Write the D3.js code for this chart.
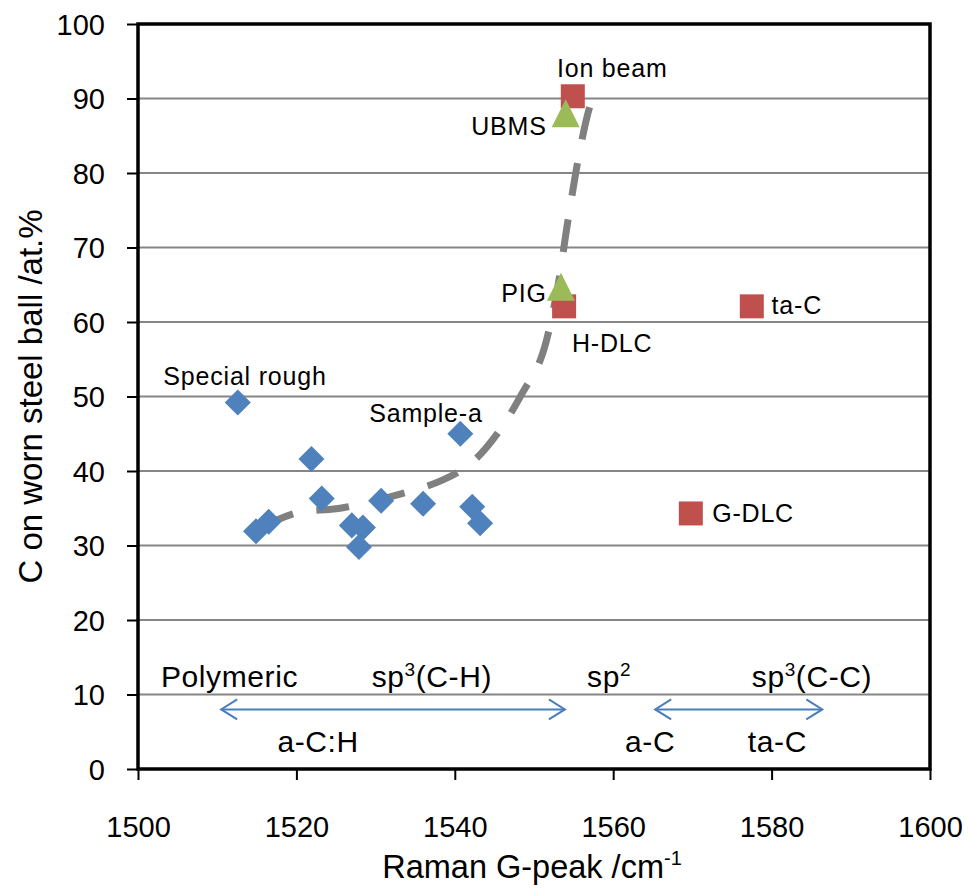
<!DOCTYPE html>
<html>
<head>
<meta charset="utf-8">
<script src="https://cdn.jsdelivr.net/npm/d3@7"></script>
<style>
  body { margin: 0; background: #fff; }
  text { font-family: "Liberation Sans", Arial, sans-serif; fill: #000; }
</style>
</head>
<body>
<div id="chart"></div>
<script>
const width = 969;
const height = 890;

// a-C:H samples (blue diamonds)
const hydroX = [1512.6, 1521.9, 1523.2, 1514.9, 1516.5, 1527.0, 1528.4, 1527.9, 1530.7, 1536.0, 1540.7, 1542.2, 1543.2];
const hydroY = [49.2, 41.6, 36.3, 31.9, 33.2, 32.7, 32.4, 29.8, 36.0, 35.6, 45.0, 35.2, 33.0];

// red squares
const squareX = [1554.9, 1553.8, 1577.5, 1569.8];
const squareY = [90.3, 62.1, 62.1, 34.3];

// green triangles
const triX = [1554.0, 1553.4];
const triY = [87.9, 64.6];

// dashed trend curve
const trendX = [1515.7, 1520.1, 1525.5, 1533.1, 1538.5, 1542.2, 1545.7, 1548.6, 1550.8, 1552.7, 1554.3, 1555.8, 1557.1, 1558.1];
const trendY = [32.5, 34.4, 35.0, 36.9, 38.8, 41.2, 45.5, 50.6, 54.9, 63.0, 73.7, 83.1, 89.1, 91.8];

// point labels (text, x, y in data units, anchor)
const pointLabels = [
  ["Ion beam", 1552.9, 92.9, "start"],
  ["UBMS", 1551.6, 85.1, "end"],
  ["PIG", 1551.6, 62.7, "end"],
  ["H-DLC", 1554.8, 56.0, "start"],
  ["ta-C", 1580.0, 61.1, "start"],
  ["G-DLC", 1572.5, 33.2, "start"],
  ["Special rough", 1503.2, 51.5, "start"],
  ["Sample-a", 1529.2, 46.6, "start"]
];

// region labels: [main, superscript, rest, x, y]
const regionLabels = [
  ["Polymeric", "", "", 1502.9, 11.0],
  ["sp", "3", "(C-H)", 1529.5, 11.0],
  ["sp", "2", "", 1556.7, 11.0],
  ["sp", "3", "(C-C)", 1577.5, 11.0],
  ["a-C:H", "", "", 1517.6, 2.3],
  ["a-C", "", "", 1561.5, 2.3],
  ["ta-C", "", "", 1577.0, 2.3]
];

// double arrows [from, to] at y = 8
const arrows = [[1510.5, 1553.9], [1565.3, 1586.4]];
const arrowY = 8;

const xTicks = d3.range(1500, 1601, 20);
const yTicks = d3.range(0, 101, 10);

const margin = { left: 138, right: 39, top: 24, bottom: 121 };

const svg = d3.select("#chart")
  .append("svg")
  .attr("width", width)
  .attr("height", height);

const x = d3.scaleLinear().domain([1500, 1600]).range([margin.left, width - margin.right]);
const y = d3.scaleLinear().domain([0, 100]).range([height - margin.bottom, margin.top]);

// gridlines
svg.append("g")
  .selectAll("line")
  .data(yTicks.filter(d => d > 0 && d < 100))
  .enter().append("line")
  .attr("x1", x(1500)).attr("x2", x(1600))
  .attr("y1", d => y(d)).attr("y2", d => y(d))
  .attr("stroke", "#868686")
  .attr("stroke-width", 2);

// axes
const yAxis = svg.append("g")
  .attr("transform", `translate(${x(1500)},0)`)
  .call(d3.axisLeft(y).tickValues(yTicks).tickSize(11).tickPadding(24));
const xAxis = svg.append("g")
  .attr("transform", `translate(0,${y(0)})`)
  .call(d3.axisBottom(x).tickValues(xTicks).tickSize(11).tickFormat(d3.format("d")).tickPadding(36));

[yAxis, xAxis].forEach(g => {
  g.select(".domain").remove();
  g.selectAll(".tick line").attr("stroke", "#000").attr("stroke-width", 2);
  g.selectAll(".tick text")
    .style("font-family", "'Liberation Sans', Arial, sans-serif")
    .style("font-size", "29px")
    .attr("fill", "#000");
});
yAxis.selectAll(".tick text").attr("x", -33).attr("dy", "0.36em");

// plot frame
svg.append("rect")
  .attr("x", x(1500)).attr("y", y(100))
  .attr("width", x(1600) - x(1500))
  .attr("height", y(0) - y(100))
  .attr("fill", "none")
  .attr("stroke", "#000")
  .attr("stroke-width", 3.5);

// axis titles
svg.append("text")
  .attr("x", (x(1500) + x(1600)) / 2 - 2)
  .attr("y", 878)
  .attr("text-anchor", "middle")
  .style("font-size", "32.5px")
  .text("Raman G-peak /cm")
  .append("tspan")
  .attr("dy", -13)
  .style("font-size", "20px")
  .text("-1");

svg.append("text")
  .attr("transform", `translate(42,${(y(0) + y(100)) / 2}) rotate(-90)`)
  .attr("text-anchor", "middle")
  .style("font-size", "33px")
  .text("C on worn steel ball /at.%");

// region arrows
const arrowColor = "#4a7ebb";
arrows.forEach(([a, b]) => {
  const g = svg.append("g").attr("stroke", arrowColor).attr("stroke-width", 2).attr("fill", "none");
  g.append("line").attr("x1", x(a)).attr("x2", x(b)).attr("y1", y(arrowY)).attr("y2", y(arrowY));
  g.append("path").attr("d", `M${x(a) + 16},${y(arrowY) - 10} L${x(a)},${y(arrowY)} L${x(a) + 16},${y(arrowY) + 10}`);
  g.append("path").attr("d", `M${x(b) - 16},${y(arrowY) - 10} L${x(b)},${y(arrowY)} L${x(b) - 16},${y(arrowY) + 10}`);
});

// region labels
regionLabels.forEach(([main, sup, rest, lx, ly]) => {
  const t = svg.append("text")
    .attr("x", x(lx)).attr("y", y(ly))
    .style("font-size", "30px")
    .style("letter-spacing", "0.6px");
  t.append("tspan").text(main);
  if (sup) {
    t.append("tspan").attr("dy", -11).style("font-size", "19px").text(sup);
    t.append("tspan").attr("dy", 11).text(rest);
  }
});

// trend curve
const trend = trendX.map((d, i) => [d, trendY[i]]);
svg.append("path")
  .datum(trend)
  .attr("d", d3.line().x(d => x(d[0])).y(d => y(d[1])).curve(d3.curveCatmullRom))
  .attr("fill", "none")
  .attr("stroke", "#808080")
  .attr("stroke-width", 7)
  .attr("stroke-dasharray", "33 24");

// blue diamonds
svg.append("g")
  .selectAll("rect")
  .data(hydroX.map((d, i) => [d, hydroY[i]]))
  .enter().append("rect")
  .attr("x", -9.2).attr("y", -9.2)
  .attr("width", 18.4).attr("height", 18.4)
  .attr("transform", d => `translate(${x(d[0])},${y(d[1])}) rotate(45)`)
  .attr("fill", "#4f81bd");

// red squares
svg.append("g")
  .selectAll("rect")
  .data(squareX.map((d, i) => [d, squareY[i]]))
  .enter().append("rect")
  .attr("x", d => x(d[0]) - 12).attr("y", d => y(d[1]) - 12)
  .attr("width", 24).attr("height", 24)
  .attr("fill", "#c0504d");

// green triangles
svg.append("g")
  .selectAll("path")
  .data(triX.map((d, i) => [d, triY[i]]))
  .enter().append("path")
  .attr("d", d => `M${x(d[0])},${y(d[1]) - 15} L${x(d[0]) + 14},${y(d[1]) + 13} L${x(d[0]) - 14},${y(d[1]) + 13}Z`)
  .attr("fill", "#9bbb59");

// point labels
svg.append("g")
  .selectAll("text")
  .data(pointLabels)
  .enter().append("text")
  .attr("x", d => x(d[1])).attr("y", d => y(d[2]))
  .attr("text-anchor", d => d[3])
  .style("font-size", "25px")
  .style("letter-spacing", "0.8px")
  .text(d => d[0]);
</script>
</body>
</html>
